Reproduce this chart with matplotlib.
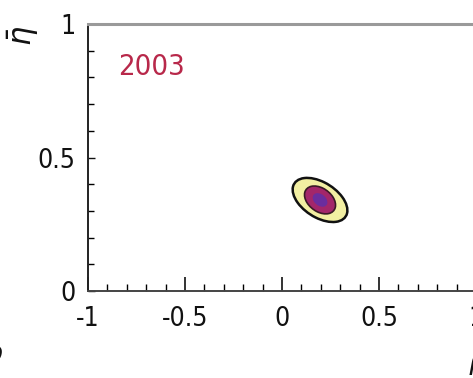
import matplotlib
matplotlib.use('Agg')
import matplotlib.pyplot as plt
from matplotlib.patches import Ellipse
from matplotlib.ticker import MultipleLocator

# ── constraint contours in the (rho-bar, eta-bar) plane ─────────────────────
year_label = '2003'
center = (0.196, 0.341)
# one entry per confidence level, outer → inner
levels_w = [0.296, 0.167, 0.079]
levels_h = [0.139, 0.093, 0.046]
levels_angle = [-20, -20, -20]
levels_fill = ['#f2efa2', '#a3266a', '#6b2d9e']
levels_edge = ['#111111', '#3a1a26', '#6b2d9e']
levels_lw = [1.8, 1.2, 0.0]

x_major = [-1, -0.5, 0, 0.5, 1]
x_labels = ['-1', '-0.5', '0', '0.5', '1']
y_major = [0, 0.5, 1]
y_labels = ['0', '0.5', '1']

fig = plt.figure(figsize=(4.73, 3.78), dpi=100, facecolor='white')
ax = fig.add_axes([88 / 473, 1 - 291 / 378, (476 - 88) / 473, (291 - 24) / 378])
ax.set_xlim(-1, 1)
ax.set_ylim(0, 1)

for w, h, a, fc, ec, lw in zip(levels_w, levels_h, levels_angle,
                               levels_fill, levels_edge, levels_lw):
    ax.add_patch(Ellipse(center, w, h, angle=a, facecolor=fc,
                         edgecolor=ec, lw=lw, zorder=3))

ax.text((118 - 88) / 388, 1 - (67 - 24) / 267, year_label,
        transform=ax.transAxes, color='#b8284a', fontsize=21,
        fontstretch='condensed', ha='left', va='center')

ax.set_xticks(x_major)
ax.set_xticklabels(x_labels)
ax.set_yticks(y_major)
ax.set_yticklabels(y_labels)
ax.xaxis.set_minor_locator(MultipleLocator(0.1))
ax.yaxis.set_minor_locator(MultipleLocator(0.1))
ax.tick_params(axis='x', which='major', direction='in', length=10, width=1.2,
               pad=11, labelsize=19, colors='#111111')
ax.tick_params(axis='x', which='minor', direction='in', length=5, width=1.0)
ax.tick_params(axis='y', which='major', direction='in', length=5, width=1.0,
               pad=9, labelsize=19, colors='#111111')
ax.tick_params(axis='y', which='minor', direction='in', length=4, width=1.0)
for lab in ax.get_xticklabels() + ax.get_yticklabels():
    lab.set_fontstretch('condensed')

ax.spines['left'].set_color('#222222')
ax.spines['left'].set_linewidth(1.4)
ax.spines['bottom'].set_color('#444444')
ax.spines['bottom'].set_linewidth(1.4)
ax.spines['top'].set_color('#9a9a9a')
ax.spines['top'].set_linewidth(2.2)
ax.spines['right'].set_visible(False)

# axis symbols
fig.text(23 / 473, 1 - 36 / 378, r'$\bar{\eta}$', rotation=90, fontsize=22,
         ha='center', va='center', color='#111111')
fig.text(478 / 473, 1 - 362 / 378, r'$\bar{\rho}$', fontsize=20,
         ha='center', va='center', color='#111111')
fig.text(-6 / 473, 1 - 356 / 378, r'$\rho$', fontsize=20,
         ha='center', va='center', color='#111111')

plt.savefig('out.png', dpi=100, facecolor='white')
plt.close()
